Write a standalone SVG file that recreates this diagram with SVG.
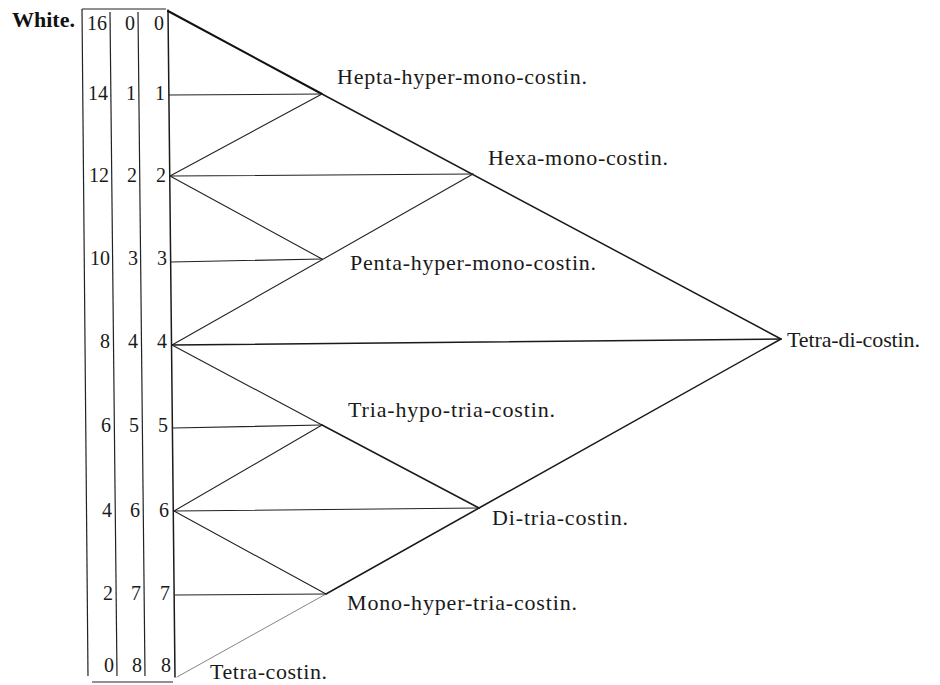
<svg xmlns="http://www.w3.org/2000/svg" width="940" height="685" viewBox="0 0 940 685">
<style>
.lab{font-family:"Liberation Serif","Times New Roman",serif;font-size:22px;fill:#1a1a1a}
.num{font-family:"Liberation Serif","Times New Roman",serif;font-size:20px;fill:#1a1a1a;text-anchor:end}
.w{font-family:"Liberation Serif","Times New Roman",serif;font-size:22px;font-weight:bold;fill:#111}
.ln{stroke:#222;stroke-width:1.1;fill:none;stroke-linecap:round}
.th{stroke:#111;stroke-width:2}
.md{stroke:#1a1a1a;stroke-width:1.5}
.lt{stroke:#777;stroke-width:0.9}
.rule{stroke:#222;stroke-width:1.2;fill:none}
</style>
<rect width="940" height="685" fill="#fff"/>
<g id="table">
<text class="w" x="12" y="27">White.</text>
<line class="rule" x1="82" y1="9" x2="166" y2="9"/>
<line class="rule" x1="82" y1="9" x2="88" y2="676"/>
<line class="rule" x1="110" y1="12" x2="117" y2="676"/>
<line class="rule" x1="138" y1="12" x2="145" y2="676"/>
<line class="rule" x1="92" y1="682" x2="173" y2="682"/>
<g>
<text class="num" x="107" y="30">16</text><text class="num" x="135" y="30">0</text><text class="num" x="164" y="30">0</text>
<text class="num" x="108" y="100">14</text><text class="num" x="136" y="100">1</text><text class="num" x="165" y="100">1</text>
<text class="num" x="109" y="182">12</text><text class="num" x="137" y="182">2</text><text class="num" x="166" y="182">2</text>
<text class="num" x="110" y="265">10</text><text class="num" x="138" y="265">3</text><text class="num" x="167" y="265">3</text>
<text class="num" x="110" y="348">8</text><text class="num" x="138" y="348">4</text><text class="num" x="167" y="348">4</text>
<text class="num" x="111" y="432">6</text><text class="num" x="139" y="432">5</text><text class="num" x="168" y="432">5</text>
<text class="num" x="112" y="517">4</text><text class="num" x="140" y="517">6</text><text class="num" x="169" y="517">6</text>
<text class="num" x="113" y="600">2</text><text class="num" x="141" y="600">7</text><text class="num" x="170" y="600">7</text>
<text class="num" x="114" y="672">0</text><text class="num" x="142" y="672">8</text><text class="num" x="171" y="672">8</text>
</g>
</g>
<g id="connectors">
<line class="ln md" x1="168" y1="10" x2="175" y2="677"/>
<line class="ln th" x1="168" y1="11" x2="322" y2="94"/>
<line class="ln md" x1="322" y1="94" x2="781" y2="339"/>
<line class="ln md" x1="781" y1="339" x2="479" y2="508"/>
<line class="ln md" x1="479" y1="508" x2="326" y2="594"/>
<line class="ln lt" x1="326" y1="594" x2="177" y2="677"/>
<line class="ln" x1="169" y1="95" x2="322" y2="94"/>
<line class="ln" x1="170" y1="176" x2="322" y2="94"/>
<line class="ln" x1="170" y1="176" x2="473" y2="174"/>
<line class="ln" x1="170" y1="176" x2="322" y2="259"/>
<line class="ln" x1="171" y1="262" x2="322" y2="259"/>
<line class="ln" x1="172" y1="345" x2="473" y2="174"/>
<line class="ln md" x1="172" y1="345" x2="781" y2="339"/>
<line class="ln" x1="172" y1="345" x2="322" y2="425"/>
<line class="ln md" x1="322" y1="425" x2="479" y2="508"/>
<line class="ln" x1="173" y1="428" x2="322" y2="425"/>
<line class="ln" x1="174" y1="511" x2="322" y2="425"/>
<line class="ln" x1="174" y1="511" x2="479" y2="508"/>
<line class="ln" x1="174" y1="511" x2="326" y2="594"/>
<line class="ln" x1="175" y1="595" x2="326" y2="594"/>
</g>
<g id="hepta"><text class="lab" x="337" y="84" textLength="250" lengthAdjust="spacing">Hepta-hyper-mono-costin.</text></g>
<g id="hexa"><text class="lab" x="488" y="165" textLength="180" lengthAdjust="spacing">Hexa-mono-costin.</text></g>
<g id="penta"><text class="lab" x="350" y="270" textLength="246" lengthAdjust="spacing">Penta-hyper-mono-costin.</text></g>
<g id="tetra-di"><text class="lab" x="787" y="347" textLength="133" lengthAdjust="spacing">Tetra-di-costin.</text></g>
<g id="tria-hypo"><text class="lab" x="348" y="417" textLength="207" lengthAdjust="spacing">Tria-hypo-tria-costin.</text></g>
<g id="di-tria"><text class="lab" x="492" y="525" textLength="136" lengthAdjust="spacing">Di-tria-costin.</text></g>
<g id="mono-hyper"><text class="lab" x="347" y="610" textLength="230" lengthAdjust="spacing">Mono-hyper-tria-costin.</text></g>
<g id="tetra"><text class="lab" x="210" y="679" textLength="117" lengthAdjust="spacing">Tetra-costin.</text></g>
</svg>
